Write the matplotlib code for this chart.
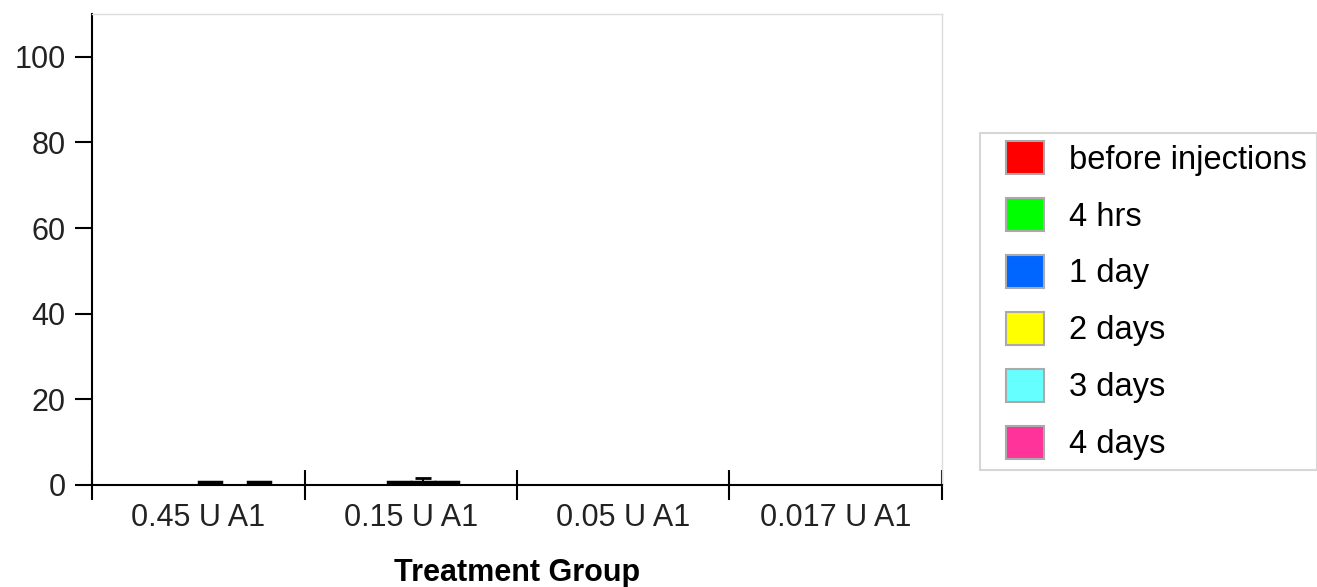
import numpy as np
import matplotlib
matplotlib.use("Agg")
import matplotlib.pyplot as plt
from matplotlib.patches import Patch, Rectangle
from matplotlib.legend_handler import HandlerPatch

plt.rcParams['font.family'] = ['Liberation Sans', 'DejaVu Sans']

groups = ["0.45 U A1", "0.15 U A1", "0.05 U A1", "0.017 U A1"]
series = ["before injections", "4 hrs", "1 day", "2 days", "3 days", "4 days"]
colors = ["#ff0000", "#00ff00", "#0066ff", "#ffff00", "#66ffff", "#ff3399"]

# values per series (one per group), nan = no data
before_inj = [np.nan, np.nan, np.nan, np.nan]
hrs_4 = [np.nan, np.nan, np.nan, np.nan]
day_1 = [np.nan, 0.8, np.nan, np.nan]
days_2 = [0.8, 0.8, np.nan, np.nan]
days_3 = [np.nan, 0.8, np.nan, np.nan]
days_4 = [0.8, np.nan, np.nan, np.nan]
values = [before_inj, hrs_4, day_1, days_2, days_3, days_4]

err_2days = [0.0, 0.9, 0.0, 0.0]
errors = [None, None, None, err_2days, None, None]

fig = plt.figure(figsize=(13.17, 5.87), dpi=100)
ax = fig.add_axes([92/1317, 1 - 485/587, 850/1317, 471/587])

x = np.arange(len(groups))
w = 0.115
for i, (vals, c) in enumerate(zip(values, colors)):
    pos = x + (i - 2.5) * w
    ax.bar(pos, vals, width=w * 0.9, color=c, edgecolor="black", linewidth=2.5)
    if errors[i] is not None:
        ev = np.array(errors[i])
        m = ev > 0
        ax.errorbar(pos[m], np.array(vals)[m], yerr=[np.zeros(m.sum()), ev[m]],
                    fmt="none", ecolor="black", elinewidth=1.5, capsize=6, capthick=2)

ax.set_xlim(-0.5, 3.5)
ax.set_ylim(0, 110)
ax.set_yticks([0, 20, 40, 60, 80, 100])
ax.set_xticks(x)
ax.set_xticklabels(groups)
ax.set_xticks(np.arange(-0.5, 4.0, 1.0), minor=True)
ax.tick_params(axis="x", which="major", length=0, pad=13, labelsize=22, labelcolor="#222222")
ax.tick_params(axis="x", which="minor", direction="inout", length=22, width=1.5)
ax.tick_params(axis="y", direction="out", length=12, width=1.5, pad=7, labelsize=22,
               labelcolor="#222222")

for s in ["left", "bottom"]:
    ax.spines[s].set_linewidth(1.5)
    ax.spines[s].set_color("black")
for s in ["top", "right"]:
    ax.spines[s].set_linewidth(1)
    ax.spines[s].set_color("#dddddd")

ax.set_xlabel("Treatment Group", fontsize=22, fontweight="bold", labelpad=18)


def square(legend, orig_handle, xdescent, ydescent, width, height, fontsize):
    # square drawn at the right part of the handle box
    sw = 27.4
    sh = 23.8
    return Rectangle((-xdescent + width - sw, -ydescent + (height - sh) / 2), sw, sh)


handles = [Patch(facecolor=c, edgecolor="#aaaaaa", linewidth=1.5) for c in colors]
leg = fig.legend(handles, series, loc="upper left", bbox_to_anchor=(980/1317, 1 - 133/587),
                 fontsize=23.5, frameon=True, fancybox=False, edgecolor="#cccccc",
                 handlelength=1.66, handleheight=1.0, handletextpad=0.77,
                 labelspacing=0.74, borderpad=0.3, borderaxespad=0,
                 handler_map={Patch: HandlerPatch(patch_func=square)})
leg.get_frame().set_linewidth(1.5)

fig.savefig("out.png", dpi=100)
